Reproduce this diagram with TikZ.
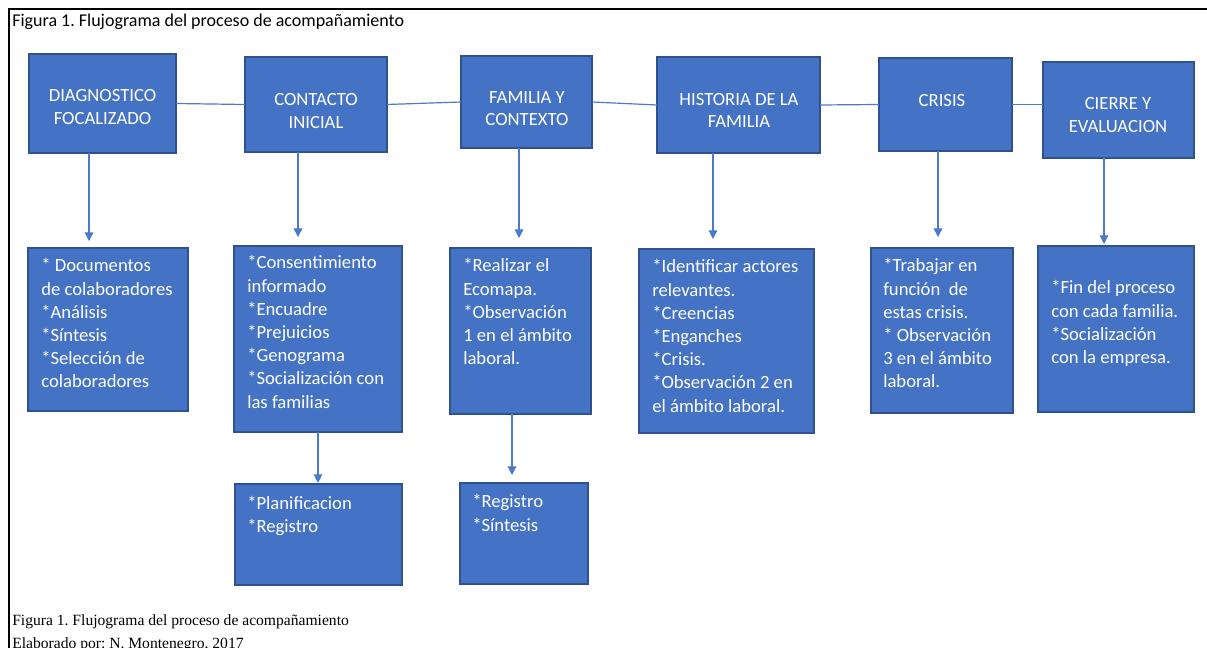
\documentclass[tikz,border=0pt]{standalone}
\usepackage{fontspec}
\setmainfont{Carlito}
\newfontfamily\capfont{Liberation Serif}
\usetikzlibrary{arrows.meta}
\definecolor{boxblue}{HTML}{4472C4}
\definecolor{boxedge}{HTML}{2F528F}
\definecolor{linkblue}{HTML}{4A7BCB}
\newcommand{\stagebox}[5]{%
  \node[stagerect, minimum width={(#4-#2)*0.75pt}, minimum height={(#5-#3)*0.75pt}] (#1) at ({(#2+#4)/2},{(#3+#5)/2}) {};}
\frenchspacing
\begin{document}
\begin{tikzpicture}[x=0.75pt,y=-0.75pt,
  stagerect/.style={draw=boxedge, fill=boxblue, line width=0.8pt, inner sep=0pt, outer sep=0pt},
  headtext/.style={text=white, inner sep=0pt, anchor=base, font=\fontsize{14}{16.8}\selectfont},
  itemtext/.style={text=white, inner sep=0pt, anchor=base west, font=\fontsize{14}{17.4}\selectfont},
  link/.style={draw=linkblue, line width=0.9pt},
  downarrow/.style={link, -{Triangle[length=6.5pt,width=6.5pt]}},
  frameline/.style={draw=black, line width=1.9pt}
]
\useasboundingbox (0,0) rectangle (1207,648);
\path[fill=white] (0,0) rectangle (1207,648);
\draw[frameline] (9,650) -- (9,9) -- (1210,9);

\node[anchor=base west, inner sep=0pt, font=\fontsize{13.5}{16}\selectfont] (title) at (12,27) {Figura 1. Flujograma del proceso de acompañamiento};

% top row
\stagebox{d1}{29}{54}{176}{153}
\stagebox{d2}{245}{57}{387}{152}
\stagebox{d3}{461}{56}{592}{148}
\stagebox{d4}{657}{57}{820}{153}
\stagebox{d5}{879}{58}{1012}{151}
\stagebox{d6}{1043}{62}{1194}{158}

\node[headtext] (h1) at (102.5,102) {\begin{tabular}[t]{@{}c@{}}DIAGNOSTICO\\FOCALIZADO\end{tabular}};
\node[headtext] (h2) at (316,106) {\begin{tabular}[t]{@{}c@{}}CONTACTO\\INICIAL\end{tabular}};
\node[headtext] (h3) at (527,103.5) {\begin{tabular}[t]{@{}c@{}}FAMILIA Y\\CONTEXTO\end{tabular}};
\node[headtext] (h4) at (739,105.5) {\begin{tabular}[t]{@{}c@{}}HISTORIA DE LA\\FAMILIA\end{tabular}};
\node[headtext] (h5) at (942,106.5) {CRISIS};
\node[headtext] (h6) at (1118,110) {\begin{tabular}[t]{@{}c@{}}CIERRE Y\\EVALUACION\end{tabular}};

% second row
\stagebox{b1}{28}{248}{188}{411}
\stagebox{b2}{234}{246}{402}{432}
\stagebox{b3}{450}{248}{591}{414}
\stagebox{b4}{639}{249}{814}{433}
\stagebox{b5}{871}{248}{1013}{413}
\stagebox{b6}{1038}{246}{1194}{412}

\node[itemtext] (i1) at (41,272) {\begin{tabular}[t]{@{}l@{}}* Documentos\\de colaboradores\\{}*Análisis\\{}*Síntesis\\{}*Selección de\\colaboradores\end{tabular}};
\node[itemtext] (i2) at (247,269) {\begin{tabular}[t]{@{}l@{}}*Consentimiento\\informado\\{}*Encuadre\\{}*Prejuicios\\{}*Genograma\\{}*Socialización con\\las familias\end{tabular}};
\node[itemtext] (i3) at (463,272) {\begin{tabular}[t]{@{}l@{}}*Realizar el\\Ecomapa.\\{}*Observación\\1 en el ámbito\\laboral.\end{tabular}};
\node[itemtext] (i4) at (652,273) {\begin{tabular}[t]{@{}l@{}}*Identificar actores\\relevantes.\\{}*Creencias\\{}*Enganches\\{}*Crisis.\\{}*Observación 2 en\\el ámbito laboral.\end{tabular}};
\node[itemtext] (i5) at (883,272) {\begin{tabular}[t]{@{}l@{}}*Trabajar en\\función~ de\\estas crisis.\\{}* Observación\\3 en el ámbito\\laboral.\end{tabular}};
\node[itemtext] (i6) at (1051,294) {\begin{tabular}[t]{@{}l@{}}*Fin del proceso\\con cada familia.\\{}*Socialización\\con la empresa.\end{tabular}};

% third row
\stagebox{c2}{235}{484}{402}{585}
\stagebox{c3}{460}{483}{588}{584}
\node[itemtext] (j2) at (247,509) {\begin{tabular}[t]{@{}l@{}}*Planificacion\\{}*Registro\end{tabular}};
\node[itemtext] (j3) at (472,508) {\begin{tabular}[t]{@{}l@{}}*Registro\\{}*Síntesis\end{tabular}};

% horizontal links
\draw[link] (d1.east) -- (d2.west);
\draw[link] (d2.east) -- (d3.west);
\draw[link] (d3.east) -- (d4.west);
\draw[link] (d4.east) -- (d5.west);
\draw[link] (d5.east) -- (d5.east -| d6.west);

% vertical arrows
\coordinate (x1) at (89,0);
\coordinate (x2) at (298,0);
\coordinate (x3) at (519,0);
\coordinate (x4) at (713,0);
\coordinate (x5) at (938,0);
\coordinate (x6) at (1104,0);
\coordinate (x7) at (318,0);
\coordinate (x8) at (512,0);
\draw[downarrow, shorten >=5.2pt] (d1.south -| x1) -- (b1.north -| x1);
\draw[downarrow, shorten >=6.7pt] (d2.south -| x2) -- (b2.north -| x2);
\draw[downarrow, shorten >=7.5pt] (d3.south -| x3) -- (b3.north -| x3);
\draw[downarrow, shorten >=7.5pt] (d4.south -| x4) -- (b4.north -| x4);
\draw[downarrow, shorten >=8.2pt] (d5.south -| x5) -- (b5.north -| x5);
\draw[downarrow, shorten >=1.5pt] (d6.south -| x6) -- (b6.north -| x6);
\draw[downarrow, shorten >=0.8pt] (b2.south -| x7) -- (c2.north -| x7);
\draw[downarrow, shorten >=6pt] (b3.south -| x8) -- (c3.north -| x8);

% caption
\node[anchor=base west, inner sep=0pt, font=\capfont\fontsize{11.7}{14}\selectfont] (cap1) at (12,625) {Figura 1. Flujograma del proceso de acompañamiento};
\node[anchor=base west, inner sep=0pt, font=\capfont\fontsize{11.7}{14}\selectfont] (cap2) at (12,648.5) {Elaborado por: N. Montenegro, 2017};
\end{tikzpicture}
\end{document}
